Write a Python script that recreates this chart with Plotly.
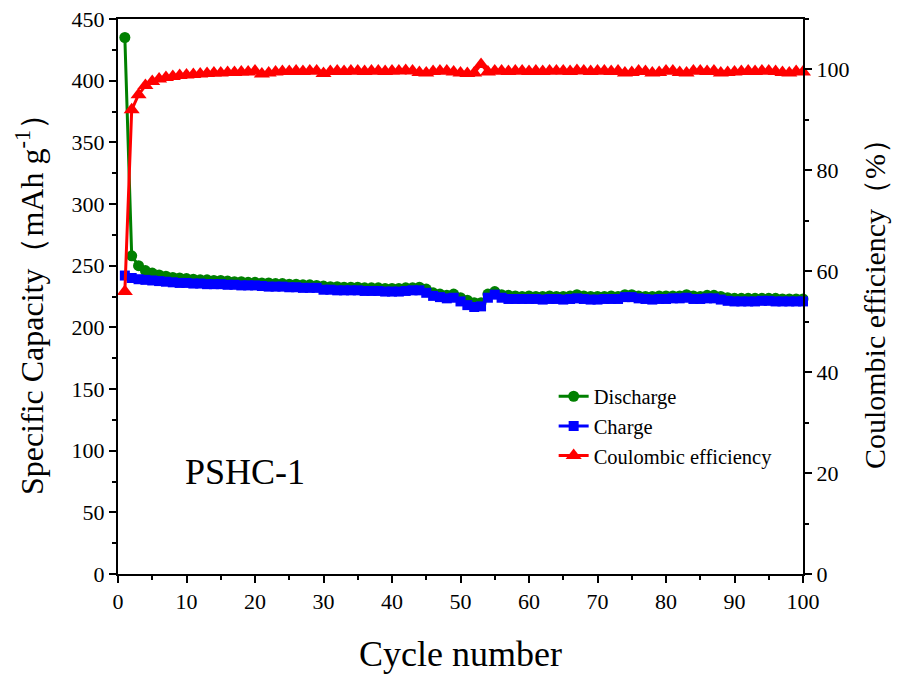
import plotly.graph_objects as go

cycles = list(range(1, 101))

discharge = [
    435, 258, 250, 246, 244, 242.5, 241.5, 240.5, 240, 239.5,
    239, 238.5, 238.5, 238, 238, 237.5, 237, 237, 236.5, 236.5,
    236, 236, 235.5, 235.5, 235, 235, 234.5, 234.5, 234, 233.5,
    233, 233, 232.5, 232.5, 232.5, 232, 232, 232, 231.5, 231.5,
    231.5, 232, 232, 232.5, 231, 228, 227, 226, 227, 224,
    222, 220, 220, 227, 229, 226.5, 226, 225.5, 225, 225.5,
    225, 225, 225.5, 225, 225, 225.5, 226.5, 225.5, 225, 225,
    225, 225.5, 225, 226.5, 226.5, 225.5, 225, 225, 225.5, 225.5,
    225.5, 225.5, 226.5, 225.5, 225, 226, 226, 225, 224, 223.5,
    223.5, 223.5, 223.5, 223.5, 223.5, 223.5, 223, 223, 223, 223,
]

charge = [
    242, 240, 239, 238.5, 238, 237.5, 237, 236.5, 236, 236,
    235.5, 235.5, 235, 235, 235, 234.5, 234.5, 234, 234, 234,
    233.5, 233, 233, 233, 232.5, 232.5, 232, 232, 232, 230.5,
    230.5, 230, 230, 230, 230, 229.5, 229.5, 229.5, 229, 229,
    229, 229.5, 230, 230, 228, 225.5, 224.5, 223.5, 224, 221,
    218, 216.5, 217, 224, 226.5, 224, 223, 223, 223, 223,
    223, 222.5, 223, 223, 222.5, 223, 223.5, 223, 222.5, 222.5,
    223, 223, 223, 224.5, 224.5, 223.5, 223, 222.5, 223, 223,
    223.5, 223.5, 224, 223, 223, 223.5, 223.5, 222.5, 221.5, 221,
    221, 221, 221, 221.5, 221.5, 221, 221, 221, 221, 221,
]

coulombic = [
    56, 92, 95, 96.8, 97.6, 98.1, 98.4, 98.6, 98.8, 98.9,
    99.0, 99.1, 99.2, 99.3, 99.3, 99.4, 99.4, 99.5, 99.5, 99.7,
    99.1, 99.3, 99.5, 99.6, 99.6, 99.7, 99.6, 99.7, 99.7, 99.2,
    99.6, 99.7, 99.6, 99.7, 99.7, 99.6, 99.7, 99.7, 99.6, 99.7,
    99.7, 99.8, 99.7, 99.4, 99.3, 99.6, 99.7, 99.7, 99.5, 99.3,
    99.2, 99.3, 101.0, 99.5, 99.7, 99.7, 99.6, 99.7, 99.7, 99.6,
    99.7, 99.6, 99.7, 99.7, 99.7, 99.6, 99.8, 99.7, 99.6, 99.7,
    99.7, 99.6, 99.7, 99.3, 99.4, 99.7, 99.6, 99.3, 99.4, 99.7,
    99.7, 99.4, 99.3, 99.7, 99.7, 99.6, 99.7, 99.3, 99.4, 99.5,
    99.6, 99.7, 99.6, 99.7, 99.7, 99.6, 99.4, 99.3, 99.6, 99.5,
]

FONT = "Liberation Serif, Times New Roman, serif"

fig = go.Figure()
fig.add_trace(go.Scatter(
    x=cycles, y=discharge, name="Discharge", mode="lines+markers",
    line=dict(color="#008000", width=3),
    marker=dict(symbol="circle", size=11, color="#008000"),
    cliponaxis=False,
))
fig.add_trace(go.Scatter(
    x=cycles, y=charge, name="Charge", mode="lines+markers",
    line=dict(color="#0000FF", width=3),
    marker=dict(symbol="square", size=10, color="#0000FF"),
    cliponaxis=False,
))
fig.add_trace(go.Scatter(
    x=cycles, y=coulombic, name="Coulombic efficiency", mode="lines+markers",
    line=dict(color="#FF0000", width=3),
    marker=dict(symbol="triangle-up", size=14, color="#FF0000"),
    yaxis="y2", cliponaxis=False,
))

fig.add_annotation(
    x=18.5, y=83, xref="x", yref="y", text="PSHC-1", showarrow=False,
    font=dict(family=FONT, size=36, color="black"),
)

axis_common = dict(
    showline=True, linecolor="black", linewidth=2,
    ticks="outside", ticklen=7, tickwidth=1.5, tickcolor="black",
    showgrid=False, zeroline=False,
    tickfont=dict(family=FONT, size=22, color="black"),
)

fig.update_layout(
    width=898, height=675,
    margin=dict(l=118, r=95, t=19, b=101, autoexpand=False),
    plot_bgcolor="white", paper_bgcolor="white",
    font=dict(family=FONT, color="black"),
    showlegend=True,
    legend=dict(
        x=0.636, y=0.356, xanchor="left", yanchor="top",
        font=dict(family=FONT, size=20.5, color="black"),
        bgcolor="rgba(0,0,0,0)", tracegroupgap=0,
    ),
    xaxis=dict(
        range=[0, 100], dtick=10, mirror=True,
        minor=dict(ticks="outside", dtick=5, ticklen=4, tickcolor="black"),
        title=dict(text="Cycle number", font=dict(family=FONT, size=36), standoff=27),
        **axis_common,
    ),
    yaxis=dict(
        range=[0, 450], dtick=50,
        minor=dict(ticks="outside", dtick=25, ticklen=4, tickcolor="black"),
        title=dict(text="Specific Capacity（mAh g<sup>-1</sup>）", font=dict(family=FONT, size=32), standoff=18),
        **axis_common,
    ),
    yaxis2=dict(
        range=[0, 110], dtick=20, overlaying="y", side="right",
        minor=dict(ticks="outside", dtick=10, ticklen=4, tickcolor="black"),
        title=dict(text="Coulombic efficiency（%）", font=dict(family=FONT, size=30), standoff=16),
        **axis_common,
    ),
)

fig.write_html("out.html")
